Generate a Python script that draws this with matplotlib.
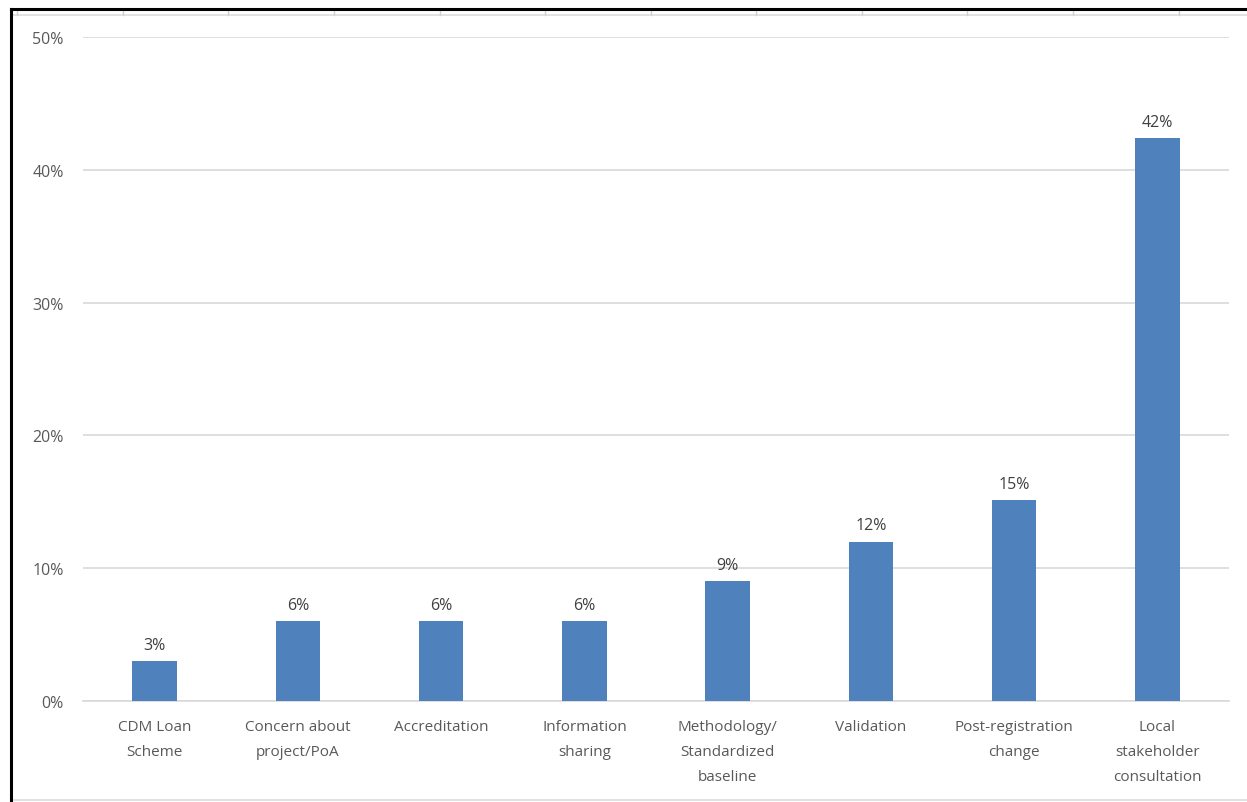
"""Bar chart of issues raised, shares by category."""
import matplotlib.pyplot as plt
from matplotlib.lines import Line2D
from matplotlib.ticker import PercentFormatter

categories = ["CDM Loan\nScheme", "Concern about\nproject/PoA", "Accreditation",
              "Information\nsharing", "Methodology/\nStandardized\nbaseline",
              "Validation", "Post-registration\nchange",
              "Local\nstakeholder\nconsultation"]
shares = [3.0, 6.0, 6.0, 6.0, 9.0, 12.0, 15.1, 42.4]
labels = ["3%", "6%", "6%", "6%", "9%", "12%", "15%", "42%"]
y_ticks = [0, 10, 20, 30, 40, 50]

W, H = 1247, 803
text_col = "#595959"
plt.rcParams['font.family'] = ['Open Sans', 'DejaVu Sans']

fig = plt.figure(figsize=(W / 100, H / 100), dpi=100)
ax = fig.add_axes([83 / W, (H - 702) / H, (1229 - 83) / W, (702 - 38) / H])

x = range(len(categories))
bars = ax.bar(x, shares, width=0.31, color="#4F81BD", zorder=3)

# Data labels above the bars
for b, lab in zip(bars, labels):
    ax.annotate(lab, (b.get_x() + b.get_width() / 2, b.get_height()),
                xytext=(0, 6), textcoords="offset points",
                ha="center", va="bottom", fontsize=11.5, color="#404040")

ax.set_xlim(-0.5, len(categories) - 0.5)
ax.set_ylim(0, 50)
ax.set_yticks(y_ticks)
ax.yaxis.set_major_formatter(PercentFormatter(decimals=0))
ax.set_xticks(list(x))
ax.set_xticklabels(categories, linespacing=1.9)
ax.tick_params(axis='x', length=0, pad=13, labelsize=11, labelcolor=text_col)
ax.tick_params(axis='y', length=0, pad=14, labelsize=11.5, labelcolor=text_col)
ax.grid(axis='y', color="#D9D9D9", linewidth=1.2, zorder=0)
for side in ["top", "right", "left"]:
    ax.spines[side].set_visible(False)
ax.spines["bottom"].set_color("#D9D9D9")
ax.spines["bottom"].set_linewidth(1.2)

# Spreadsheet frame behind the chart
def px(xp, yp):
    return xp / W, 1 - yp / H

frame = []
frame.append(Line2D(*zip(px(11, 16), px(W, 16)), color="#DDDDDD", lw=1.2))
for xc in [17, 123, 228, 334, 440, 545, 651, 756, 862, 967, 1073, 1179]:
    frame.append(Line2D(*zip(px(xc, 11), px(xc, 16)), color="#D0D0D0", lw=1.0))
frame.append(Line2D(*zip(px(11, 801), px(W, 801)), color="#DDDDDD", lw=1.2))
frame.append(Line2D(*zip(px(11, 10), px(W, 10)), color="black", lw=2.2))
frame.append(Line2D(*zip(px(11, 10), px(11, H)), color="black", lw=2.2))
for ln in frame:
    ln.set_transform(fig.transFigure)
    fig.add_artist(ln)

plt.savefig("out.png", dpi=100)
